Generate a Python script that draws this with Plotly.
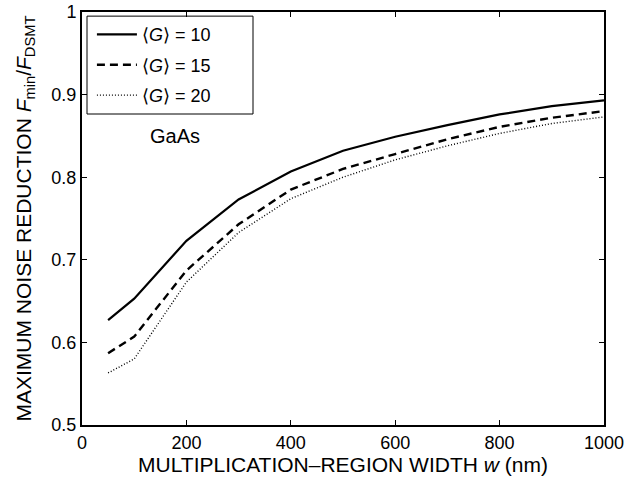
import plotly.graph_objects as go

# Multiplication-region width (nm)
width_nm = [50, 100, 200, 300, 400, 500, 600, 700, 800, 900, 1000]

# Maximum noise reduction F_min / F_DSMT for each mean gain
reduction_g10 = [0.627, 0.653, 0.723, 0.773, 0.807, 0.832, 0.849, 0.863, 0.876, 0.886, 0.893]
reduction_g15 = [0.587, 0.607, 0.687, 0.743, 0.785, 0.810, 0.828, 0.846, 0.861, 0.872, 0.880]
reduction_g20 = [0.563, 0.580, 0.673, 0.733, 0.774, 0.800, 0.821, 0.838, 0.853, 0.865, 0.873]

series_names = ["\u27e8<i>G</i>\u27e9 = 10", "\u27e8<i>G</i>\u27e9 = 15", "\u27e8<i>G</i>\u27e9 = 20"]

x_ticks = [0, 200, 400, 600, 800, 1000]
y_ticks = [0.5, 0.6, 0.7, 0.8, 0.9, 1.0]
y_tick_text = ["0.5", "0.6", "0.7", "0.8", "0.9", "1"]

font_family = "Liberation Sans, Arial, sans-serif"

fig = go.Figure()
styles = [("solid", 2.2), ("8px,5px", 2.4), ("1px,2px", 1.4)]
for i, (ys, name) in enumerate(zip([reduction_g10, reduction_g15, reduction_g20], series_names)):
    dash, w = styles[i]
    fig.add_trace(go.Scatter(
        x=width_nm, y=ys, mode="lines", name=name, legendgroup=f"g{i}",
        line=dict(color="black", width=w, dash=dash),
    ))

fig.add_annotation(
    x=178, y=0.85, xref="x", yref="y", text="GaAs", showarrow=False,
    font=dict(family=font_family, size=20, color="black"),
)

# Frame around the legend entries
fig.add_shape(
    type="rect", xref="paper", yref="paper",
    x0=0.0096, x1=0.3276, y0=0.753, y1=0.99,
    line=dict(color="black", width=1), fillcolor="white", layer="below",
)

axis_common = dict(
    showgrid=False, zeroline=False, showline=True, linecolor="black", linewidth=2,
    mirror="ticks", ticks="inside", ticklen=5, tickwidth=1, tickcolor="black",
    tickfont=dict(family=font_family, size=18, color="black"),
    automargin=False,
)

fig.update_layout(
    width=630, height=483,
    margin=dict(l=82, r=26, t=12, b=58),
    paper_bgcolor="white", plot_bgcolor="white",
    font=dict(family=font_family, color="black"),
    xaxis=dict(
        range=[0, 1000], tickvals=x_ticks, ticktext=[str(v) for v in x_ticks],
        title=dict(text="MULTIPLICATION\u2013REGION WIDTH <i>w</i> (nm)",
                   font=dict(family=font_family, size=21), standoff=2),
        **axis_common,
    ),
    yaxis=dict(
        range=[0.5, 1.0], tickvals=y_ticks, ticktext=y_tick_text,
        title=dict(text="MAXIMUM NOISE REDUCTION <i>F</i><sub>min</sub>/<i>F</i><sub>DSMT</sub>",
                   font=dict(family=font_family, size=21), standoff=14),
        **axis_common,
    ),
    legend=dict(
        x=0.019, y=0.99, xanchor="left", yanchor="top",
        borderwidth=0, bgcolor="rgba(0,0,0,0)",
        font=dict(family=font_family, size=18, color="black"),
        tracegroupgap=4, itemwidth=40,
    ),
    showlegend=True,
)

fig.write_html("out.html")
